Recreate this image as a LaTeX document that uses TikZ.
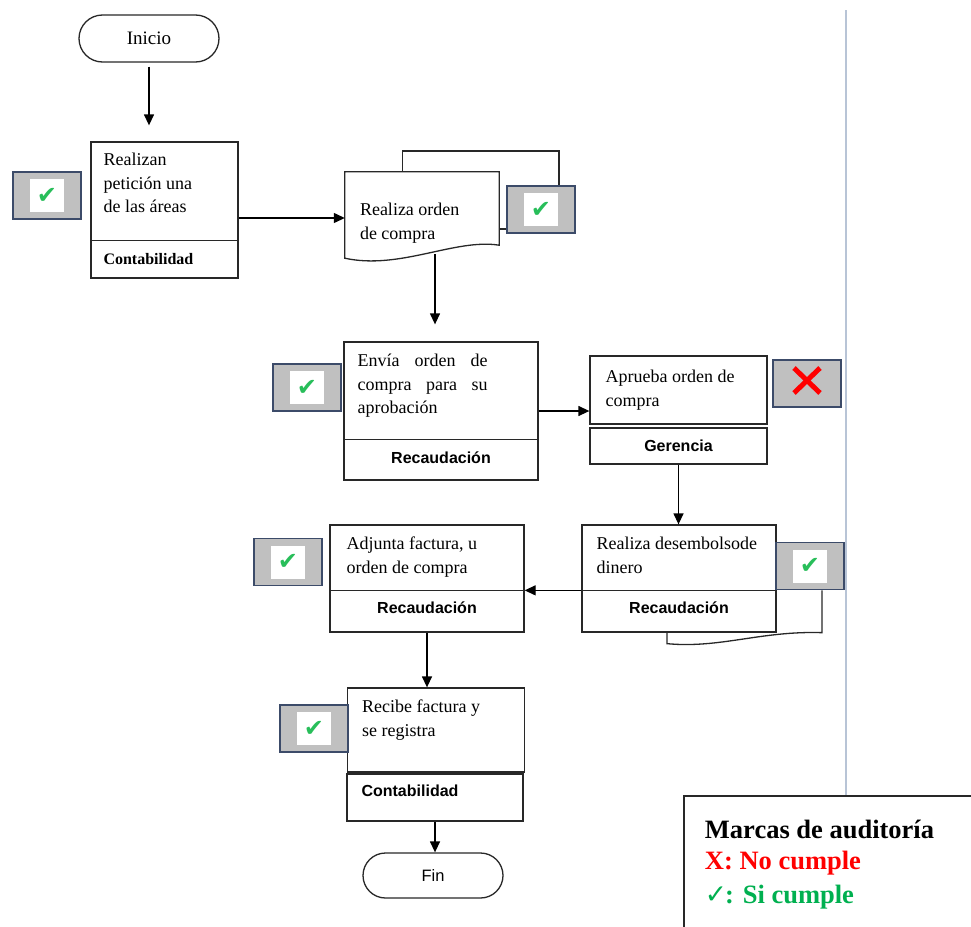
\documentclass[tikz,border=0pt]{standalone}
\usepackage{fontspec}
\setmainfont{Liberation Serif}
\newfontfamily\arialf{Liberation Sans}
\newfontfamily\djv{DejaVu Sans}
\usetikzlibrary{arrows.meta,calc,shapes.misc}
\definecolor{ln}{RGB}{40,40,40}
\definecolor{chkb}{RGB}{60,75,105}
\definecolor{chkg}{RGB}{192,192,192}
\definecolor{okg}{RGB}{40,190,90}
\definecolor{legg}{RGB}{0,176,80}
\definecolor{sepc}{RGB}{184,196,214}
\begin{document}
\begin{tikzpicture}[x=1pt,y=-1pt,
  box/.style={draw=ln, line width=1.3pt, fill=white, inner sep=0pt},
  term/.style={rounded rectangle, draw=ln, line width=1.3pt, fill=white, inner sep=0pt},
  txt/.style={inner sep=0pt, anchor=north west, align=left, font=\fontsize{18}{23.5}\selectfont},
  lbls/.style={inner sep=0pt, anchor=base, font=\arialf\bfseries\fontsize{16}{16}\selectfont},
  lblt/.style={inner sep=0pt, anchor=base west, font=\bfseries\fontsize{16}{16}\selectfont},
  div/.style={draw=ln, line width=1.3pt},
  arr/.style={draw=black, line width=1.3pt, -{Triangle[length=11pt,width=10pt]}},
  chk/.style={draw=chkb, fill=chkg, line width=1.8pt, minimum width=68pt, minimum height=47pt, inner sep=0pt},
  chkin/.style={fill=white, minimum width=34pt, minimum height=33pt, inner sep=0pt, text=okg, font=\djv\fontsize{24}{24}\selectfont},
  xm/.style={draw=red, line width=5pt},
  legt/.style={inner sep=0pt, anchor=base west, font=\bfseries\fontsize{26.5}{26.5}\selectfont}
]
\useasboundingbox (0,0) rectangle (971,926);
\clip (0,0) rectangle (971,926);
\fill[white] (0,0) rectangle (971,926);

% legend frame and the separator line above it
\node[draw=ln, line width=2.5pt, minimum width=306pt, minimum height=149pt, inner sep=0pt] (leg) at (837,870.5) {};
\coordinate (vtop) at (846,10);
\draw[sepc, line width=2pt] (vtop) -- (vtop |- leg.north);

% start
\node[term, minimum width=140pt, minimum height=47pt, font=\fontsize{19}{19}\selectfont] (ini) at (149,38.5) {Inicio};

% step 1
\node[box, minimum width=147pt, minimum height=136pt] (b1) at (164.5,210) {};
\node[txt] (b1t) at ([xshift=13pt,yshift=-7.5pt]b1.north west) {\strut Realizan\\petición una\\de las áreas};
\draw[div] ([yshift=-99pt]b1.north west) -- ([yshift=-99pt]b1.north east);
\node[lblt] (b1l) at ([xshift=13pt,yshift=14pt]b1.south west) {Contabilidad};
\node[chk] (c1) at (47,195.5) {};
\node[chkin] (c1m) at (c1) {✔};

% step 2: purchase order document
\node[inner sep=0pt, minimum width=154pt, minimum height=86pt] (doc) at (422,215) {};
\node[chk] (c2) at (541,209.5) {};
\node[chkin] (c2m) at (c2) {✔};
\draw[div] ([xshift=58pt]doc.north west) |- ([xshift=-17pt,yshift=34pt]c2.north east) -- ([xshift=-17pt]c2.north east);
\draw[div, fill=white] (doc.north west) -- (doc.north east) -- ([yshift=13pt]doc.south east)
  .. controls ($(doc.south east)+(-44,-20)$) and ($(doc.south west)+(55,12)$) .. (doc.south west) -- cycle;
\draw[div] ([yshift=-14pt]doc.east) -- ([yshift=-14pt]doc.east -| c2.west);
\node[txt] (doct) at ([xshift=15pt,yshift=-27.5pt]doc.north west) {\strut Realiza orden\\de compra};

% step 3
\node[box, minimum width=194pt, minimum height=138pt] (b3) at (441,411) {};
\node[txt] (b3t) at ([xshift=14pt,yshift=-8.5pt]b3.north west) {\strut\makebox[130pt][s]{Envía orden de}\\\makebox[130pt][s]{compra para su}\\aprobación};
\draw[div] ([yshift=-98pt]b3.north west) -- ([yshift=-98pt]b3.north east);
\node[lbls] (b3l) at ([yshift=17pt]b3.south) {Recaudación};
\node[chk] (c3) at (307,387.5) {};
\node[chkin] (c3m) at (c3) {✔};

% step 4
\node[box, minimum width=177pt, minimum height=68pt] (b4) at (678.5,390) {};
\node[txt] (b4t) at ([xshift=16pt,yshift=-10.5pt]b4.north west) {\strut Aprueba orden de\\compra};
\node[box, minimum width=177pt, minimum height=36pt] (g4) at (678.5,446) {};
\node[lbls] (g4l) at ([yshift=-5pt]g4.center) {Gerencia};
\node[chk] (xb) at (807,383.5) {};
\draw[xm] ($(xb.center)+(-13,-15.5)$) -- ($(xb.center)+(13,9.5)$);
\draw[xm] ($(xb.center)+(13,-15.5)$) -- ($(xb.center)+(-13,9.5)$);

% step 5
\node[box, minimum width=194pt, minimum height=107pt] (b5) at (679,578.5) {};
\node[chk] (c5) at (810,566) {};
\node[chkin] (c5m) at (c5) {✔};
\draw[div] ([xshift=-23pt]c5.south east) -- ([xshift=-23pt]c5.south east |- b5.south)
  .. controls +(-61,-2) and +(53,5) .. ([xshift=-12pt,yshift=-11pt]b5.south) -- ([xshift=-12pt]b5.south);
\node[txt] (b5t) at ([xshift=15pt,yshift=-8.5pt]b5.north west) {\strut Realiza desembolsode\\dinero};
\draw[div] ([yshift=-66pt]b5.north west) -- ([yshift=-66pt]b5.north east);
\node[lbls] (b5l) at ([yshift=19pt]b5.south) {Recaudación};

% step 6
\node[box, minimum width=194pt, minimum height=107pt] (b6) at (427,578.5) {};
\node[txt] (b6t) at ([xshift=17pt,yshift=-8.5pt]b6.north west) {\strut Adjunta factura, u\\orden de compra};
\draw[div] ([yshift=-66pt]b6.north west) -- ([yshift=-66pt]b6.north east);
\node[lbls] (b6l) at ([yshift=19pt]b6.south) {Recaudación};
\node[chk] (c6) at (288,562) {};
\node[chkin] (c6m) at (c6) {✔};

% step 7
\node[box, minimum width=177pt, minimum height=84pt] (b7) at (436,730) {};
\node[txt] (b7t) at ([xshift=15pt,yshift=-8.5pt]b7.north west) {\strut Recibe factura y\\se registra};
\node[box, minimum width=176pt, minimum height=47pt] (k7) at (435,797.5) {};
\node[lbls, anchor=base west] (k7l) at ([xshift=15pt,yshift=-23pt]k7.north west) {Contabilidad};
\node[chk] (c7) at (314,728.5) {};
\node[chkin] (c7m) at (c7) {✔};

% end
\node[term, minimum width=140pt, minimum height=45pt, font=\arialf\fontsize{16.5}{16.5}\selectfont] (fin) at (433,875.5) {Fin};

% connectors
\draw[arr, shorten <=4pt, shorten >=16pt] (ini.south) -- (ini.south |- b1.north);
\draw[arr] ([yshift=-8pt]b1.east) -- ([yshift=-8pt]b1.east -| doc.west);
\draw[arr, shorten >=17pt] ([xshift=13pt,yshift=4pt]doc.south) -- ([xshift=13pt]doc.south |- b3.north);
\draw[arr] (b3.east) -- (b3.east -| b4.west);
\draw[arr] (g4.south) -- (g4.south |- b5.north);
\draw[arr] ([yshift=-66pt]b5.north west) -- ([yshift=-66pt]b6.north east);
\draw[arr] (b6.south) -- (b6.south |- b7.north);
\draw[arr] (k7.south) -- (k7.south |- fin.north);

% legend
\node[legt] (leg1) at ([xshift=22pt,yshift=-44pt]leg.north west) {Marcas de auditoría};
\node[legt, text=red] (leg2) at ([xshift=22pt,yshift=-75pt]leg.north west) {X: No cumple};
\node[legt, text=legg] (leg3) at ([xshift=22pt,yshift=-109pt]leg.north west) {{\djv ✓}\kern-2pt: Si cumple};
\end{tikzpicture}
\end{document}
